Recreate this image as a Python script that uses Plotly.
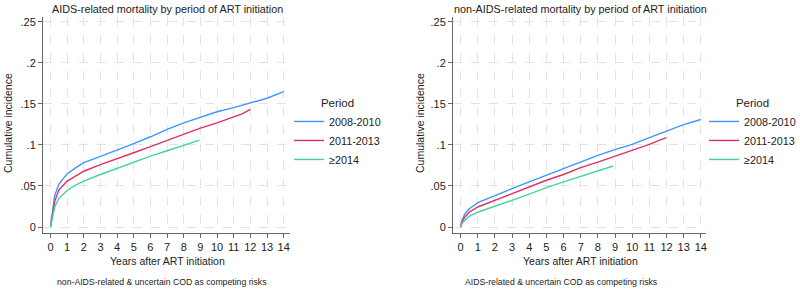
import plotly.graph_objects as go

# ---------------- data ----------------
periods = ["2008-2010", "2011-2013", "≥2014"]
colors = ["#3d96ff", "#de3068", "#45d39c"]

# Left panel: AIDS-related mortality
aids_t_0810 = [0, 0.1, 0.25, 0.5, 1, 1.5, 2, 3, 4, 5, 6, 7, 8, 9, 10, 11, 12, 13, 14]
aids_y_0810 = [0, 0.018, 0.038, 0.052, 0.065, 0.072, 0.0785, 0.086, 0.0935, 0.1016, 0.110, 0.119, 0.127, 0.134, 0.1405, 0.1455, 0.151, 0.157, 0.165]
aids_t_1113 = [0, 0.1, 0.25, 0.5, 1, 1.5, 2, 3, 4, 5, 6, 7, 8, 9, 10, 11, 11.5, 12]
aids_y_1113 = [0, 0.014, 0.031, 0.045, 0.056, 0.062, 0.068, 0.076, 0.083, 0.0905, 0.098, 0.1055, 0.113, 0.1205, 0.127, 0.134, 0.138, 0.1435]
aids_t_14 = [0, 0.1, 0.25, 0.5, 1, 1.5, 2, 3, 4, 5, 6, 7, 8, 8.95]
aids_y_14 = [0, 0.011, 0.024, 0.035, 0.0445, 0.051, 0.056, 0.064, 0.0715, 0.079, 0.0865, 0.093, 0.0995, 0.106]

# Right panel: non-AIDS-related mortality
non_t_0810 = [0, 0.1, 0.25, 0.5, 1, 2, 3, 4, 5, 6, 7, 8, 9, 10, 11, 12, 13, 14]
non_y_0810 = [0, 0.009, 0.016, 0.022, 0.0297, 0.0386, 0.0467, 0.0549, 0.063, 0.071, 0.080, 0.0874, 0.0943, 0.1008, 0.109, 0.117, 0.1248, 0.131]
non_t_1113 = [0, 0.1, 0.25, 0.5, 1, 2, 3, 4, 5, 6, 7, 8, 9, 10, 11, 11.6, 12]
non_y_1113 = [0, 0.007, 0.012, 0.018, 0.0244, 0.0325, 0.0407, 0.0488, 0.057, 0.064, 0.0724, 0.079, 0.086, 0.0935, 0.1008, 0.106, 0.109]
non_t_14 = [0, 0.1, 0.25, 0.5, 1, 2, 3, 4, 5, 6, 7, 7.5, 8, 8.5, 8.9]
non_y_14 = [0, 0.005, 0.008, 0.013, 0.018, 0.025, 0.0325, 0.040, 0.048, 0.055, 0.0615, 0.065, 0.068, 0.072, 0.0744]

x_ticks = list(range(0, 15))
y_ticks = [0, 0.05, 0.1, 0.15, 0.2, 0.25]
y_ticktext = ["0", ".05", ".1", ".15", ".2", ".25"]

titles = ["AIDS-related mortality by period of ART initiation",
          "non-AIDS-related mortality by period of ART initiation"]
notes = ["non-AIDS-related & uncertain COD as competing risks",
         "AIDS-related & uncertain COD as competing risks"]
x_title = "Years after ART initiation"
y_title = "Cumulative incidence"
legend_title = "Period"

# ---------------- figure ----------------
W, H = 800, 289
FONT = "Liberation Sans, Arial, Helvetica, sans-serif"

fig = go.Figure()

left = [(aids_t_0810, aids_y_0810), (aids_t_1113, aids_y_1113), (aids_t_14, aids_y_14)]
right = [(non_t_0810, non_y_0810), (non_t_1113, non_y_1113), (non_t_14, non_y_14)]

for i, (t, y) in enumerate(left):
    fig.add_trace(go.Scatter(x=t, y=y, mode="lines", name=periods[i],
                             line=dict(color=colors[i], width=1.4),
                             xaxis="x", yaxis="y", legend="legend"))
for i, (t, y) in enumerate(right):
    fig.add_trace(go.Scatter(x=t, y=y, mode="lines", name=periods[i],
                             line=dict(color=colors[i], width=1.4),
                             xaxis="x2", yaxis="y2", legend="legend2"))

def px_x(p):
    return p / W

def px_y(p):
    return 1 - p / H

axis_common = dict(
    showline=True, linecolor="#666666", linewidth=1,
    ticks="outside", ticklen=4, tickcolor="#666666", tickwidth=1,
    showgrid=True, gridcolor="#e3e3e3", griddash="dash", gridwidth=1,
    zeroline=False, tickfont=dict(family=FONT, size=11, color="#222"),
    fixedrange=True,
)

ydom = [px_y(233), px_y(17)]
leg_common = dict(xanchor="left", yanchor="top",
                  title=dict(text=legend_title, font=dict(size=11.5, family=FONT, color="#222"),
                             side="top center"),
                  font=dict(size=10.8, family=FONT, color="#222"),
                  bgcolor="rgba(0,0,0,0)", tracegroupgap=0, itemwidth=30)
fig.update_layout(
    width=W, height=H,
    margin=dict(l=0, r=0, t=0, b=0, autoexpand=False),
    paper_bgcolor="white", plot_bgcolor="white",
    font=dict(family=FONT, color="#222"),
    xaxis=dict(domain=[px_x(43), px_x(290)], range=[-0.45, 14.38], anchor="y",
               tickvals=x_ticks, **axis_common),
    yaxis=dict(domain=ydom, range=[-0.0073, 0.256], anchor="x",
               tickvals=y_ticks, ticktext=y_ticktext, **axis_common),
    xaxis2=dict(domain=[px_x(453), px_x(706)], range=[-0.44, 14.3], anchor="y2",
                tickvals=x_ticks, **axis_common),
    yaxis2=dict(domain=ydom, range=[-0.0073, 0.256], anchor="x2",
                tickvals=y_ticks, ticktext=y_ticktext, **axis_common),
    legend=dict(x=px_x(289), y=px_y(92), **leg_common),
    legend2=dict(x=px_x(704), y=px_y(92), **leg_common),
    showlegend=True,
)

annotations = []
for cx, title in zip([167, 580], titles):
    annotations.append(dict(text=title, x=px_x(cx), y=px_y(9), xref="paper", yref="paper",
                            xanchor="center", yanchor="middle", showarrow=False,
                            font=dict(size=10.8, family=FONT, color="#222")))
for cx in [167, 580]:
    annotations.append(dict(text=x_title, x=px_x(cx), y=px_y(261), xref="paper", yref="paper",
                            xanchor="center", yanchor="middle", showarrow=False,
                            font=dict(size=10.5, family=FONT, color="#222")))
for cx in [8, 420]:
    annotations.append(dict(text=y_title, x=px_x(cx), y=px_y(123), xref="paper", yref="paper",
                            xanchor="center", yanchor="middle", showarrow=False, textangle=-90,
                            font=dict(size=10.5, family=FONT, color="#222")))
for lx, note in zip([55, 463], notes):
    annotations.append(dict(text=note, x=px_x(lx), y=px_y(282), xref="paper", yref="paper",
                            xanchor="left", yanchor="middle", showarrow=False,
                            font=dict(size=8.7, family=FONT, color="#222")))
fig.update_layout(annotations=annotations)

fig.write_html("out.html")
